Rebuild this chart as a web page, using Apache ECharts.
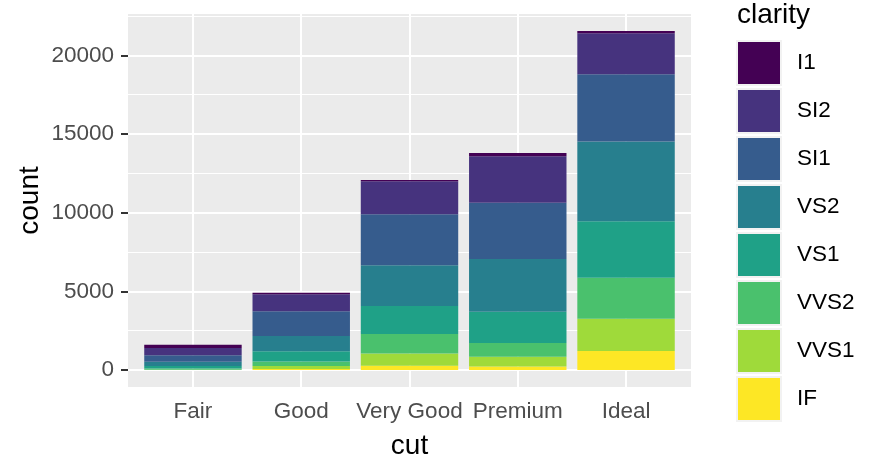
<!DOCTYPE html>
<html><head><meta charset="utf-8">
<script src="https://cdn.jsdelivr.net/npm/echarts@6/dist/echarts.min.js"></script>
<style>html,body{margin:0;padding:0;background:#fff}#c{width:884px;height:474px}</style>
</head><body><div id="c"></div>
<script>
// Data: diamonds count by cut x clarity
const cuts = ['Fair', 'Good', 'Very Good', 'Premium', 'Ideal'];
const clarities = ['I1', 'SI2', 'SI1', 'VS2', 'VS1', 'VVS2', 'VVS1', 'IF'];
const I1   = [210, 96, 84, 205, 146];
const SI2  = [466, 1081, 2100, 2949, 2598];
const SI1  = [408, 1560, 3240, 3575, 4282];
const VS2  = [261, 978, 2591, 3357, 5071];
const VS1  = [170, 648, 1775, 1989, 3589];
const VVS2 = [69, 286, 1235, 870, 2606];
const VVS1 = [17, 186, 789, 616, 2047];
const IF   = [9, 71, 268, 230, 1212];
const yTicks = [0, 5000, 10000, 15000, 20000];
const yMinor = [2500, 7500, 12500, 17500, 22500];

const colorOf = {
  I1: '#440154', SI2: '#46337E', SI1: '#365C8D', VS2: '#277F8E',
  VS1: '#1FA187', VVS2: '#4AC16D', VVS1: '#9FDA3A', IF: '#FDE725'
};
const valuesOf = { I1, SI2, SI1, VS2, VS1, VVS2, VVS1, IF };

const FONT = 'Liberation Sans, Arial, sans-serif';
const totals = cuts.map((c, i) => clarities.reduce((s, k) => s + valuesOf[k][i], 0));
const maxTotal = Math.max(...totals);
const yMin = -0.05 * maxTotal, yMax = maxTotal * 1.05;
const xPos = cuts.map((c, i) => i + 1);

// panel geometry (ggplot discrete expansion 0.6 on each side)
const W = 884, H = 474;
const panelLeft = 128, panelRight = 193, panelTop = 14, panelBottom = 87;
const panelW = W - panelLeft - panelRight;
const unit = panelW / 5.2;
const barsLeft = panelLeft + 0.1 * unit, barsRight = panelRight + 0.1 * unit;

const chart = echarts.init(document.getElementById('c'), null, { renderer: 'canvas' });

// stacking: bottom = IF ... top = I1
const stackOrder = clarities.slice().reverse();
const barSeries = stackOrder.map(k => ({
  name: k,
  type: 'bar',
  stack: 'total',
  xAxisIndex: 1, yAxisIndex: 1,
  z: 10,
  barWidth: '90%',
  itemStyle: { color: colorOf[k] },
  emphasis: { disabled: true },
  data: valuesOf[k]
}));

const gridLines = {
  type: 'line',
  data: [],
  silent: true,
  xAxisIndex: 0, yAxisIndex: 0,
  markLine: {
    silent: true,
    symbol: 'none',
    z: 3,
    animation: false,
    label: { show: false },
    emphasis: { disabled: true },
    data: [
      ...yMinor.map(v => ({ yAxis: v, lineStyle: { color: '#fff', width: 1, type: 'solid' } })),
      ...yTicks.map(v => ({ yAxis: v, lineStyle: { color: '#fff', width: 2, type: 'solid' } })),
      ...xPos.map(v => ({ xAxis: v, lineStyle: { color: '#fff', width: 2, type: 'solid' } }))
    ]
  }
};

chart.setOption({
  animation: false,
  textStyle: { fontFamily: FONT },
  title: {
    text: 'clarity', left: 737, top: 1, padding: 0,
    textStyle: { fontSize: 28, fontWeight: 'normal', color: '#000', fontFamily: FONT }
  },
  legend: {
    data: clarities,
    orient: 'vertical',
    left: 736, top: 40,
    padding: 0,
    itemWidth: 44, itemHeight: 44, itemGap: 2,
    icon: 'rect',
    itemStyle: { borderColor: '#F2F2F2', borderWidth: 2 },
    textStyle: { fontSize: 22.5, color: '#000', fontFamily: FONT, padding: [2, 0, 0, 11] },
    selectedMode: false
  },
  grid: [
    { left: panelLeft, right: panelRight, top: panelTop, bottom: panelBottom,
      show: true, backgroundColor: '#EBEBEB', borderWidth: 0 },
    { left: barsLeft, right: barsRight, top: panelTop, bottom: panelBottom, show: false }
  ],
  xAxis: [{
    gridIndex: 0,
    type: 'value', min: 0.4, max: 5.6,
    axisLine: { show: false },
    splitLine: { show: false },
    axisTick: { show: true, customValues: xPos, length: 7, lineStyle: { color: '#333', width: 2 } },
    axisLabel: {
      customValues: xPos, formatter: v => cuts[Math.round(v) - 1] || '',
      color: '#4D4D4D', fontSize: 22.5, margin: 13, fontFamily: FONT
    },
    name: 'cut', nameLocation: 'middle', nameGap: 45,
    nameTextStyle: { fontSize: 28, color: '#000', fontFamily: FONT }
  }, {
    gridIndex: 1, type: 'category', data: cuts, show: false
  }],
  yAxis: [{
    gridIndex: 0,
    type: 'value', min: yMin, max: yMax,
    axisLine: { show: false },
    splitLine: { show: false },
    axisTick: { show: true, customValues: yTicks, length: 7, lineStyle: { color: '#333', width: 2 } },
    axisLabel: {
      customValues: yTicks, formatter: v => String(v),
      color: '#4D4D4D', fontSize: 22.5, margin: 14, fontFamily: FONT
    },
    name: 'count', nameLocation: 'middle', nameRotate: 90, nameGap: 98,
    nameMoveOverlap: false,
    nameTextStyle: { fontSize: 28, color: '#000', fontFamily: FONT, verticalAlign: 'middle' }
  }, {
    gridIndex: 1, type: 'value', min: yMin, max: yMax, show: false
  }],
  series: [gridLines, ...barSeries]
});
</script>
</body></html>
